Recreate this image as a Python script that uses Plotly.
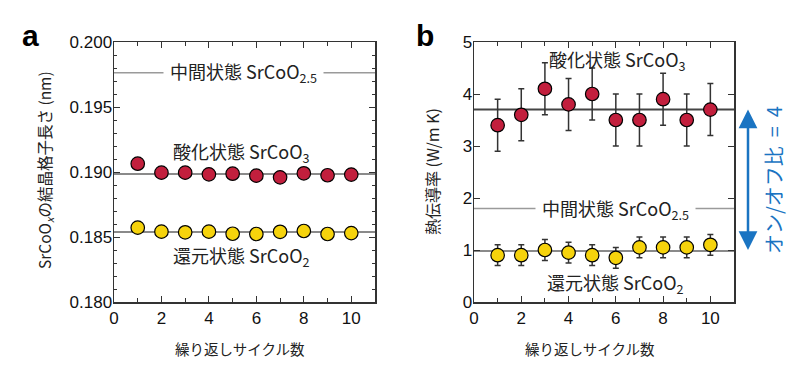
import plotly.graph_objects as go

# ---- data ----
cycles = [1, 2, 3, 4, 5, 6, 7, 8, 9, 10]
a_oxidized = [0.19064, 0.18995, 0.18995, 0.18982, 0.18987, 0.18972, 0.18959, 0.18990, 0.18975, 0.18980]
a_reduced = [0.18572, 0.18541, 0.18536, 0.18541, 0.18525, 0.18523, 0.18540, 0.18546, 0.18523, 0.18530]
a_ox_mean = 0.18985
a_red_mean = 0.18538
a_mid_level = 0.19764

b_oxidized = [3.4, 3.6, 4.1, 3.8, 4.0, 3.5, 3.5, 3.9, 3.5, 3.7]
b_ox_err = [0.5] * 10
b_reduced = [0.9, 0.9, 1.0, 0.95, 0.9, 0.85, 1.05, 1.05, 1.05, 1.1]
b_red_err = [0.2] * 10
b_ox_mean = 3.7
b_red_mean = 0.98
b_mid_level = 1.8
line_x = [0, 11]

RED = "#c21f3d"
YEL = "#f6d30c"
BLUE = "#1a74c2"
FONT = "Liberation Sans, Arial, Noto Sans CJK JP"
JP = "Noto Sans CJK JP, Liberation Sans"

W, H = 800, 369
def px(x):
    return x / W
def py(y):
    return 1 - y / H

fig = go.Figure()

# panel a
fig.add_trace(go.Scatter(x=line_x, y=[a_mid_level] * 2, mode="lines",
                         line=dict(color="#9a9a9a", width=1.5), xaxis="x", yaxis="y"))
fig.add_trace(go.Scatter(x=line_x, y=[a_ox_mean] * 2, mode="lines",
                         line=dict(color="#8a8a8a", width=2), xaxis="x", yaxis="y"))
fig.add_trace(go.Scatter(x=line_x, y=[a_red_mean] * 2, mode="lines",
                         line=dict(color="#8a8a8a", width=2), xaxis="x", yaxis="y"))
fig.add_trace(go.Scatter(x=cycles, y=a_oxidized, mode="markers",
                         marker=dict(size=13.5, color=RED, line=dict(color="black", width=1.2)),
                         xaxis="x", yaxis="y"))
fig.add_trace(go.Scatter(x=cycles, y=a_reduced, mode="markers",
                         marker=dict(size=13.5, color=YEL, line=dict(color="black", width=1.2)),
                         xaxis="x", yaxis="y"))

# panel b
fig.add_trace(go.Scatter(x=line_x, y=[b_mid_level] * 2, mode="lines",
                         line=dict(color="#9a9a9a", width=1.5), xaxis="x2", yaxis="y2"))
fig.add_trace(go.Scatter(x=line_x, y=[b_ox_mean] * 2, mode="lines",
                         line=dict(color="#444444", width=2), xaxis="x2", yaxis="y2"))
fig.add_trace(go.Scatter(x=line_x, y=[b_red_mean] * 2, mode="lines",
                         line=dict(color="#8a8a8a", width=2), xaxis="x2", yaxis="y2"))
fig.add_trace(go.Scatter(x=cycles, y=b_oxidized, mode="markers",
                         error_y=dict(type="data", array=b_ox_err, color="#333333", thickness=1.5, width=3),
                         marker=dict(size=13.5, color=RED, line=dict(color="black", width=1.2)),
                         xaxis="x2", yaxis="y2"))
fig.add_trace(go.Scatter(x=cycles, y=b_reduced, mode="markers",
                         error_y=dict(type="data", array=b_red_err, color="#333333", thickness=1.5, width=3),
                         marker=dict(size=13.5, color=YEL, line=dict(color="black", width=1.2)),
                         xaxis="x2", yaxis="y2"))

axis_common = dict(showgrid=False, zeroline=False, showline=True, linecolor="#333333", linewidth=1.5,
                   mirror="allticks", ticks="inside", ticklen=6, tickwidth=1, tickcolor="#333333",
                   automargin=False,
                   tickfont=dict(family=FONT, size=17, color="#111111"))

fig.update_layout(
    width=W, height=H, autosize=False,
    margin=dict(l=0, r=0, t=0, b=0, pad=0, autoexpand=False),
    paper_bgcolor="white", plot_bgcolor="white", showlegend=False,
    xaxis=dict(domain=[px(114), px(375)], range=[0, 11], dtick=2, tick0=0,
               minor=dict(dtick=1, ticks="inside", ticklen=4, tickcolor="#333333"), anchor="y", **axis_common),
    yaxis=dict(domain=[py(302), py(42)], range=[0.180, 0.200], dtick=0.005, tickformat=".3f",
               ticklabelstandoff=-3,
               minor=dict(dtick=0.001, ticks="inside", ticklen=3, tickcolor="#333333"), anchor="x", **axis_common),
    xaxis2=dict(domain=[px(474), px(734)], range=[0, 11], dtick=2, tick0=0,
                minor=dict(dtick=1, ticks="inside", ticklen=4, tickcolor="#333333"), anchor="y2", **axis_common),
    yaxis2=dict(domain=[py(302), py(42)], range=[0, 5], dtick=1, anchor="x2",
                ticklabelstandoff=-3, **axis_common),
)

ann = []
def label(x, y, text, size=18, color="#222222", angle=0, family=JP, bg=None, pad=0):
    d = dict(x=px(x), y=py(y), xref="paper", yref="paper", text=text, showarrow=False,
             font=dict(family=family, size=size, color=color), textangle=angle,
             xanchor="center", yanchor="middle")
    if bg:
        d.update(bgcolor=bg, borderpad=pad)
    return d

ann.append(label(30, 36, "<b>a</b>", size=30, family="Liberation Sans, Arial", color="black"))
ann.append(label(425, 36, "<b>b</b>", size=30, family="Liberation Sans, Arial", color="black"))

# panel a texts
ann.append(label(243, 73, "中間状態 SrCoO<sub>2.5</sub>", bg="white", pad=6))
ann.append(label(241, 153, "酸化状態 SrCoO<sub>3</sub>"))
ann.append(label(241, 256, "還元状態 SrCoO<sub>2</sub>"))
ann.append(label(240, 348, "繰り返しサイクル数", size=14.5))
ann.append(label(45, 170, "SrCoO<sub><i>x</i></sub>の結晶格子長さ (nm)", size=15.5, angle=-90))

# panel b texts
ann.append(label(617, 60, "酸化状態 SrCoO<sub>3</sub>"))
ann.append(label(615, 209, "中間状態 SrCoO<sub>2.5</sub>", bg="white", pad=6))
ann.append(label(615, 283, "還元状態 SrCoO<sub>2</sub>"))
ann.append(label(590, 348, "繰り返しサイクル数", size=14.5))
ann.append(label(432, 172, "熱伝導率 (W/m K)", size=16, angle=-90))
ann.append(label(773, 180, "オン/オフ比&nbsp;&nbsp;=&nbsp;&nbsp;4", size=20, color=BLUE, angle=-90))

# double arrow (paper position, pixel length)
ann.append(dict(x=px(748), y=py(250), xref="paper", yref="paper", ax=0, ay=-142,
                axref="pixel", ayref="pixel",
                showarrow=True, arrowhead=2, startarrowhead=2, arrowside="end+start",
                arrowsize=1.5, startarrowsize=1.5, arrowwidth=2.5, arrowcolor=BLUE, text=""))

fig.update_layout(annotations=ann)
fig.write_html("out.html", config={"displayModeBar": False, "staticPlot": True},
               post_script="document.body.style.margin='0px';document.body.style.overflow='hidden';")
